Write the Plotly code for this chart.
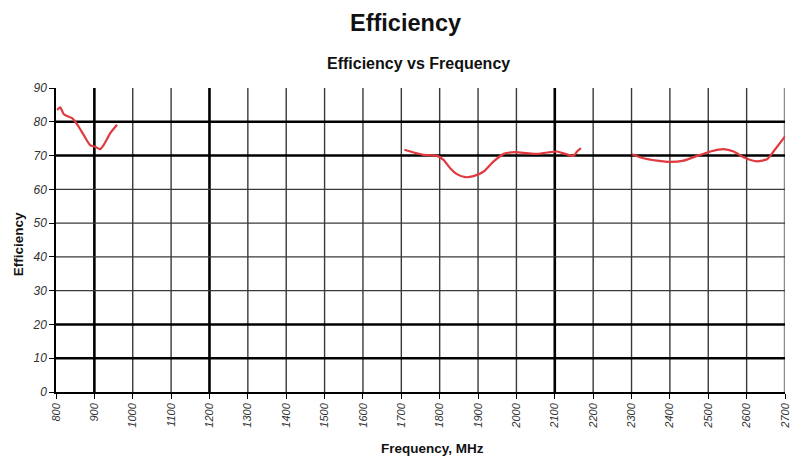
import plotly.graph_objects as go

# ---- data ----
band1_freq = [803, 811, 820, 829, 842, 856, 872, 889, 902, 915, 924, 942, 959]
band1_eff = [83.5, 84.3, 82.3, 81.7, 81.1, 79.1, 76.1, 73.1, 72.6, 71.9, 73.1, 76.7, 79.1]

band2_freq = [1708, 1732, 1758, 1793, 1810, 1828, 1845, 1867, 1888, 1914, 1940, 1967,
              1997, 2027, 2054, 2080, 2106, 2127, 2149, 2158, 2168]
band2_eff = [71.7, 70.9, 70.2, 69.9, 68.7, 66.2, 64.5, 63.6, 63.9, 65.2, 68.2, 70.5,
             71.0, 70.7, 70.5, 70.9, 71.2, 70.5, 69.9, 71.2, 72.2]

band3_freq = [2301, 2331, 2366, 2401, 2436, 2471, 2506, 2540, 2566, 2592, 2627, 2653, 2670, 2701]
band3_eff = [70.4, 69.2, 68.5, 68.1, 68.5, 69.9, 71.2, 71.9, 71.2, 69.5, 68.3, 68.9, 71.2, 75.8]

x_ticks = list(range(800, 2701, 100))
x_tick_labels = [str(v) for v in x_ticks]
y_ticks = list(range(0, 91, 10))
y_tick_labels = [str(v) for v in y_ticks]

x_grid_thick = [900, 1200, 2100]
y_grid_thick = [10, 20, 70, 80]

FONT = "Liberation Sans, Arial, sans-serif"
LINE_RED = "#e0393e"

fig = go.Figure()
for fx, fy in [(band1_freq, band1_eff), (band2_freq, band2_eff), (band3_freq, band3_eff)]:
    fig.add_trace(go.Scatter(x=fx, y=fy, mode="lines",
                             line=dict(color=LINE_RED, width=2.2, shape="spline", smoothing=0.6),
                             showlegend=False, hoverinfo="skip"))

shapes = []
for v in x_ticks[1:]:
    if v == x_ticks[-1]:
        col, w = "#8a8a8a", 2.5
    elif v in x_grid_thick:
        col, w = "#000000", 2.6
    else:
        col, w = "#3a3a3a", 1.4
    shapes.append(dict(type="line", xref="x", yref="paper", x0=v, x1=v, y0=0, y1=1,
                       line=dict(color=col, width=w), layer="below"))
for v in y_ticks[1:-1]:
    if v in y_grid_thick:
        col, w = "#000000", 2.6
    else:
        col, w = "#3a3a3a", 1.4
    shapes.append(dict(type="line", xref="paper", yref="y", x0=0, x1=1, y0=v, y1=v,
                       line=dict(color=col, width=w), layer="below"))

annotations = [
    dict(text="<b>Efficiency</b>", xref="paper", yref="paper", x=0.479, y=1.214,
         xanchor="center", yanchor="middle", showarrow=False,
         font=dict(family=FONT, size=23.5, color="#111111")),
    dict(text="<b>Efficiency vs Frequency</b>", xref="paper", yref="paper", x=0.497, y=1.079,
         xanchor="center", yanchor="middle", showarrow=False,
         font=dict(family=FONT, size=16, color="#111111")),
    dict(text="<b>Efficiency</b>", xref="paper", yref="paper", x=-0.052, y=0.486,
         xanchor="center", yanchor="middle", showarrow=False, textangle=-90,
         font=dict(family=FONT, size=13.5, color="#111111")),
    dict(text="<b>Frequency, MHz</b>", xref="paper", yref="paper", x=0.517, y=-0.186,
         xanchor="center", yanchor="middle", showarrow=False,
         font=dict(family=FONT, size=13.5, color="#111111")),
]

fig.update_layout(
    width=794, height=452,
    margin=dict(l=48, r=17, t=80, b=68),
    paper_bgcolor="white", plot_bgcolor="white",
    shapes=shapes, annotations=annotations,
    xaxis=dict(range=[800, 2700], tickvals=x_ticks, ticktext=x_tick_labels, tickangle=-90,
               showgrid=False, zeroline=False, showline=True, linecolor="black", linewidth=1.5,
               ticks="outside", ticklen=5, tickcolor="black", tickwidth=1.2,
               tickfont=dict(family=FONT, size=11, color="#333333", style="italic")),
    yaxis=dict(range=[0, 90], tickvals=y_ticks, ticktext=y_tick_labels,
               showgrid=False, zeroline=False, showline=True, linecolor="black", linewidth=1.5,
               ticks="outside", ticklen=5, tickcolor="black", tickwidth=1.2,
               tickfont=dict(family=FONT, size=12, color="#333333", style="italic")),
)

fig.write_html("out.html")
